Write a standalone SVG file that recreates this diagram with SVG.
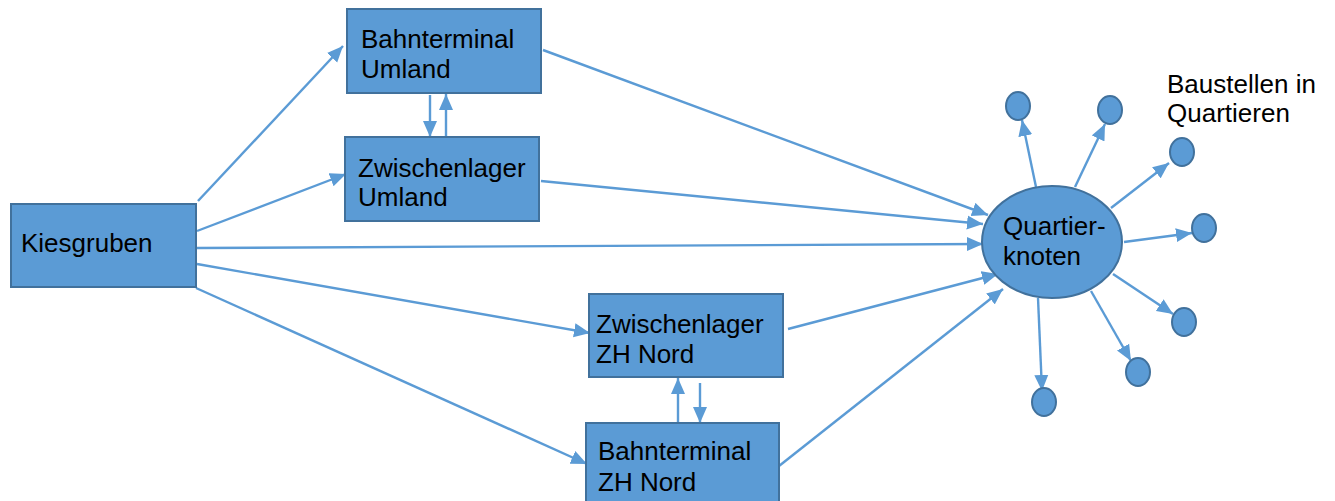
<svg xmlns="http://www.w3.org/2000/svg" width="1335" height="501" viewBox="0 0 1335 501">
<style>
.box{fill:#5B9BD5;stroke:#41719C;stroke-width:2}
.t{font-family:"Liberation Sans",Arial,sans-serif;font-size:26px;fill:#000}
.c{stroke:#5B9BD5;stroke-width:2.4;fill:none;marker-end:url(#ah)}
</style>
<defs>
<marker id="ah" markerUnits="userSpaceOnUse" markerWidth="17" markerHeight="15" refX="16" refY="7" orient="auto" viewBox="0 0 17 14">
<path d="M0,0 L16,7 L0,14 z" fill="#5B9BD5"/>
</marker>
</defs>
<rect width="1335" height="501" fill="#fff"/>
<g id="connectors">
<line class="c" x1="198" y1="201" x2="343" y2="46"/>
<line class="c" x1="197" y1="231" x2="346" y2="174"/>
<line class="c" x1="197" y1="248" x2="983" y2="244"/>
<line class="c" x1="197" y1="264" x2="590" y2="333"/>
<line class="c" x1="196" y1="288" x2="587" y2="464"/>
<line class="c" x1="543" y1="50" x2="988" y2="215"/>
<line class="c" x1="541" y1="181" x2="983" y2="224"/>
<line class="c" x1="788" y1="329" x2="998" y2="274"/>
<line class="c" x1="779" y1="466" x2="1003" y2="289"/>
<line class="c" x1="430" y1="95" x2="430" y2="137"/>
<line class="c" x1="446" y1="136" x2="446" y2="94"/>
<line class="c" x1="678" y1="423" x2="678" y2="378"/>
<line class="c" x1="700" y1="383" x2="700" y2="423"/>
<line class="c" x1="1036" y1="187" x2="1022" y2="120"/>
<line class="c" x1="1075" y1="187" x2="1105" y2="124"/>
<line class="c" x1="1111" y1="208" x2="1169" y2="163"/>
<line class="c" x1="1124" y1="242" x2="1192" y2="233"/>
<line class="c" x1="1113" y1="274" x2="1173" y2="314"/>
<line class="c" x1="1091" y1="291" x2="1131" y2="361"/>
<line class="c" x1="1038" y1="298" x2="1042" y2="391"/>
</g>
<g id="kiesgruben">
<rect class="box" x="11" y="204" width="185" height="83"/>
<text class="t" x="21" y="252">Kiesgruben</text>
</g>
<g id="bahnterminal-umland">
<rect class="box" x="347" y="9" width="194" height="84"/>
<text class="t" x="361" y="48">Bahnterminal</text>
<text class="t" x="361" y="78">Umland</text>
</g>
<g id="zwischenlager-umland">
<rect class="box" x="345" y="137" width="194" height="84"/>
<text class="t" x="358" y="177">Zwischenlager</text>
<text class="t" x="358" y="206">Umland</text>
</g>
<g id="zwischenlager-zh-nord">
<rect class="box" x="589" y="294" width="194" height="83"/>
<text class="t" x="596" y="333">Zwischenlager</text>
<text class="t" x="596" y="363">ZH Nord</text>
</g>
<g id="bahnterminal-zh-nord">
<rect class="box" x="586" y="423" width="193" height="84"/>
<text class="t" x="598" y="460">Bahnterminal</text>
<text class="t" x="598" y="491">ZH Nord</text>
</g>
<g id="quartierknoten">
<ellipse class="box" cx="1052" cy="242" rx="70" ry="56"/>
<text class="t" x="1003" y="235">Quartier-</text>
<text class="t" x="1003" y="265">knoten</text>
</g>
<g id="baustelle-1"><ellipse class="box" cx="1018" cy="106" rx="12" ry="14"/></g>
<g id="baustelle-2"><ellipse class="box" cx="1110" cy="110" rx="12" ry="14"/></g>
<g id="baustelle-3"><ellipse class="box" cx="1182" cy="152" rx="12" ry="14"/></g>
<g id="baustelle-4"><ellipse class="box" cx="1204" cy="228" rx="12" ry="14"/></g>
<g id="baustelle-5"><ellipse class="box" cx="1184" cy="322" rx="12" ry="14"/></g>
<g id="baustelle-6"><ellipse class="box" cx="1138" cy="372" rx="12" ry="14"/></g>
<g id="baustelle-7"><ellipse class="box" cx="1044" cy="402" rx="12" ry="14"/></g>
<g id="label-baustellen">
<text class="t" x="1167" y="93">Baustellen in</text>
<text class="t" x="1167" y="122">Quartieren</text>
</g>
</svg>
